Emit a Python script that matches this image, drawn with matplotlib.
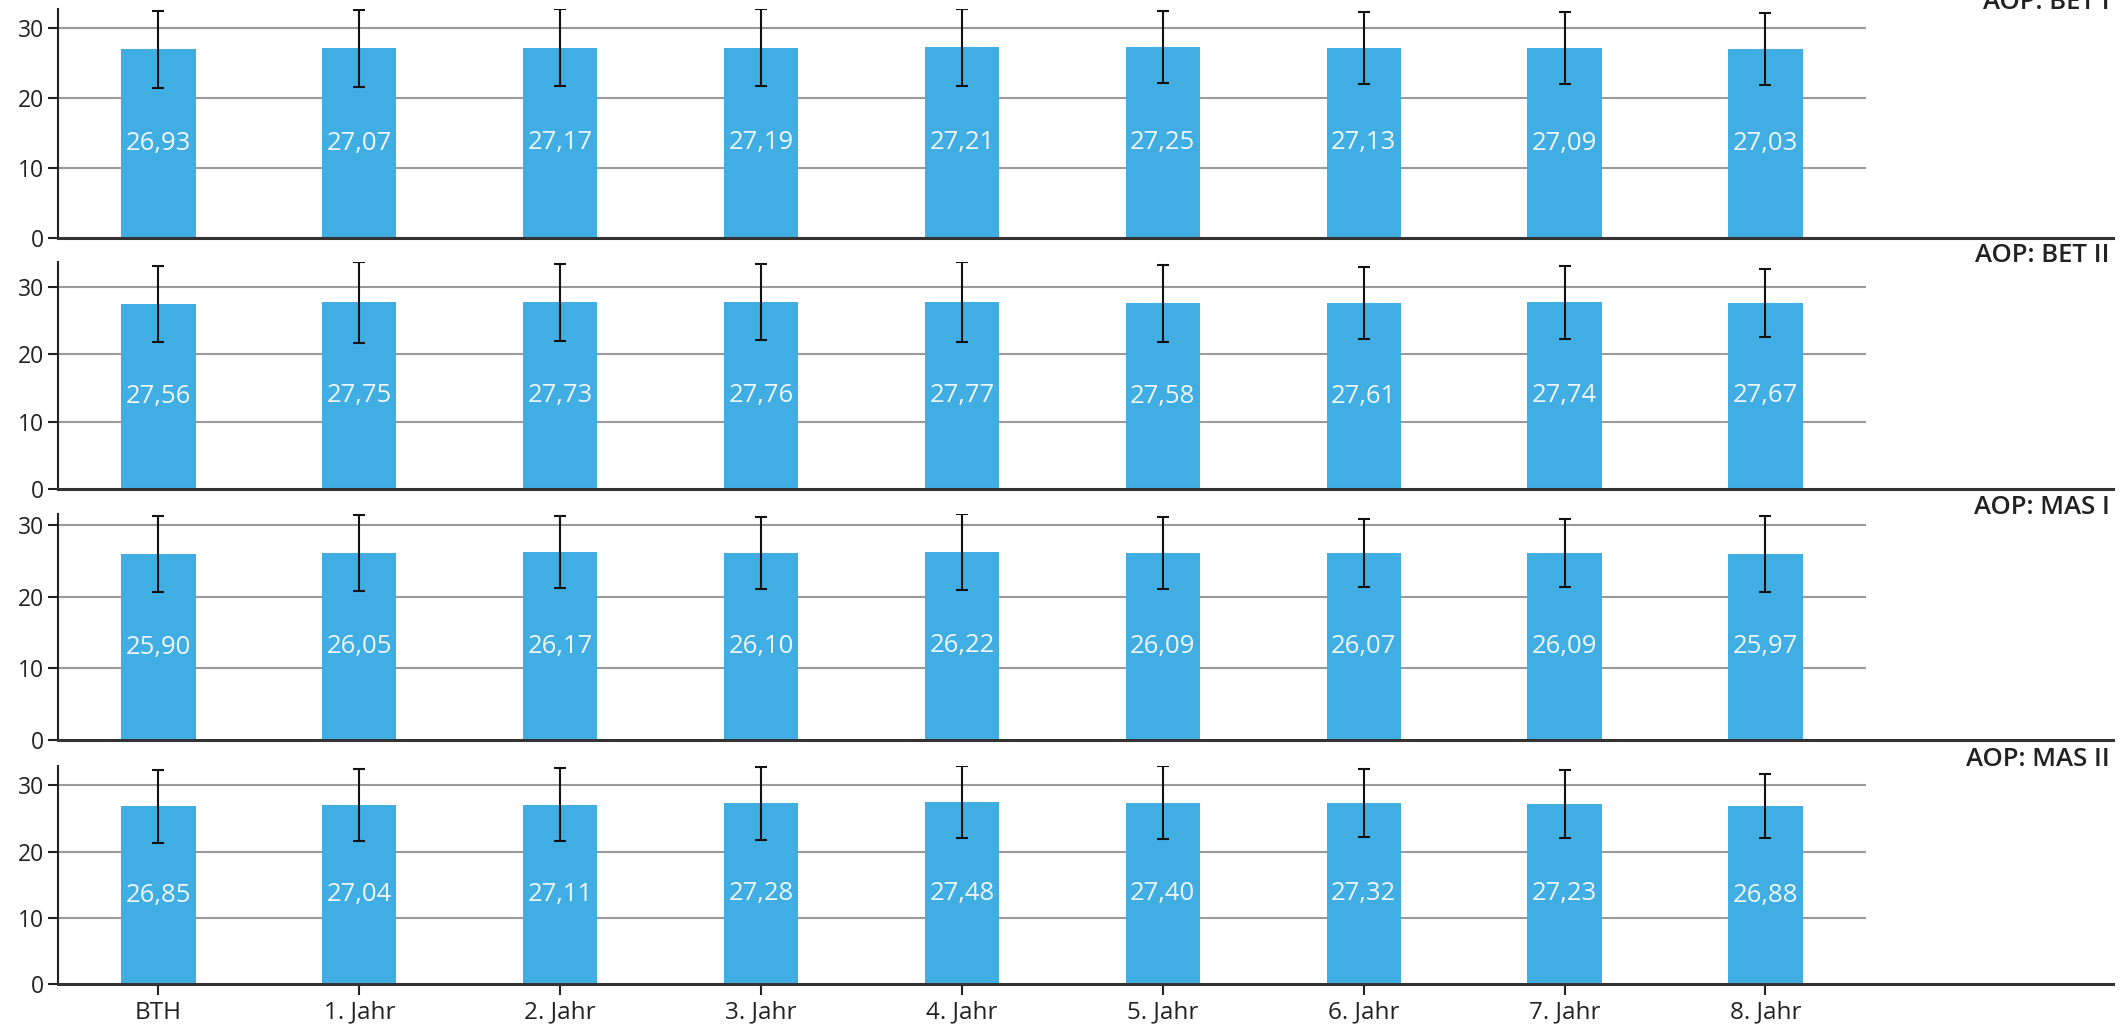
import numpy as np
import matplotlib
matplotlib.use("Agg")
import matplotlib.pyplot as plt

plt.rcParams['font.family'] = ['Open Sans', 'DejaVu Sans']

categories = ['BTH', '1. Jahr', '2. Jahr', '3. Jahr', '4. Jahr', '5. Jahr', '6. Jahr', '7. Jahr', '8. Jahr']
panel_titles = ['AOP: BET I', 'AOP: BET II', 'AOP: MAS I', 'AOP: MAS II']

bet1 = [26.93, 27.07, 27.17, 27.19, 27.21, 27.25, 27.13, 27.09, 27.03]
bet1_sd = [5.45, 5.48, 5.48, 5.48, 5.48, 5.14, 5.14, 5.14, 5.14]
bet2 = [27.56, 27.75, 27.73, 27.76, 27.77, 27.58, 27.61, 27.74, 27.67]
bet2_sd = [5.66, 5.98, 5.66, 5.66, 5.98, 5.66, 5.37, 5.37, 5.07]
mas1 = [25.90, 26.05, 26.17, 26.10, 26.22, 26.09, 26.07, 26.09, 25.97]
mas1_sd = [5.30, 5.28, 5.03, 5.03, 5.28, 5.03, 4.75, 4.75, 5.30]
mas2 = [26.85, 27.04, 27.11, 27.28, 27.48, 27.40, 27.32, 27.23, 26.88]
mas2_sd = [5.48, 5.48, 5.48, 5.48, 5.45, 5.48, 5.15, 5.15, 4.85]

series = [(bet1, bet1_sd), (bet2, bet2_sd), (mas1, mas1_sd), (mas2, mas2_sd)]

W, H = 2127, 1031
fig = plt.figure(figsize=(W / 100, H / 100), dpi=100)

# panel extents in pixels (top, bottom)
panels = [(9, 238), (262, 489), (514, 740), (766, 984)]
left_px, right_px = 58, 2113

bar_color = '#40AEE3'
dark = '#222222'
ind = np.arange(len(categories))

for k, ((top, bot), (vals, sd), title) in enumerate(zip(panels, series, panel_titles)):
    ax = fig.add_axes([left_px / W, 1 - bot / H, (right_px - left_px) / W, (bot - top) / H])
    vals = np.array(vals)
    sd = np.array(sd)

    ax.hlines([10, 20, 30], -0.5, len(categories) - 0.5, color='#9a9a9a', lw=1.5, zorder=0)
    ax.bar(ind, vals, 0.37, color=bar_color, zorder=2)
    ax.errorbar(ind, vals, yerr=sd, fmt='none', ecolor='#111111', elinewidth=1.5,
                capsize=4.3, capthick=1.5, zorder=3)
    for x, v in zip(ind, vals):
        ax.text(x, v / 2, ('%.2f' % v).replace('.', ','), ha='center', va='center',
                color='#eef7fd', fontsize=18.5, zorder=4)

    ax.set_xlim(-0.5, 9.73)
    ax.set_ylim(0, (vals + sd).max())
    ax.set_yticks([0, 10, 20, 30])
    ax.tick_params(axis='y', labelsize=16.5, length=7, width=1.5, color=dark, labelcolor=dark, pad=3)
    for s in ['top', 'right']:
        ax.spines[s].set_visible(False)
    ax.spines['left'].set_color(dark)
    ax.spines['left'].set_linewidth(1.5)
    ax.spines['bottom'].set_color('#333333')
    ax.spines['bottom'].set_linewidth(2.2)

    if k == len(panels) - 1:
        ax.set_xticks(ind)
        ax.set_xticklabels(categories)
        ax.tick_params(axis='x', labelsize=17.5, length=8, width=1.5, color=dark, labelcolor=dark, pad=4)
    else:
        ax.set_xticks([])

    ax.text(0.9985, 1.0, title, transform=ax.transAxes, ha='right', va='baseline',
            fontsize=18.5, fontweight='semibold', color=dark)

fig.savefig('out.png', dpi=100)
